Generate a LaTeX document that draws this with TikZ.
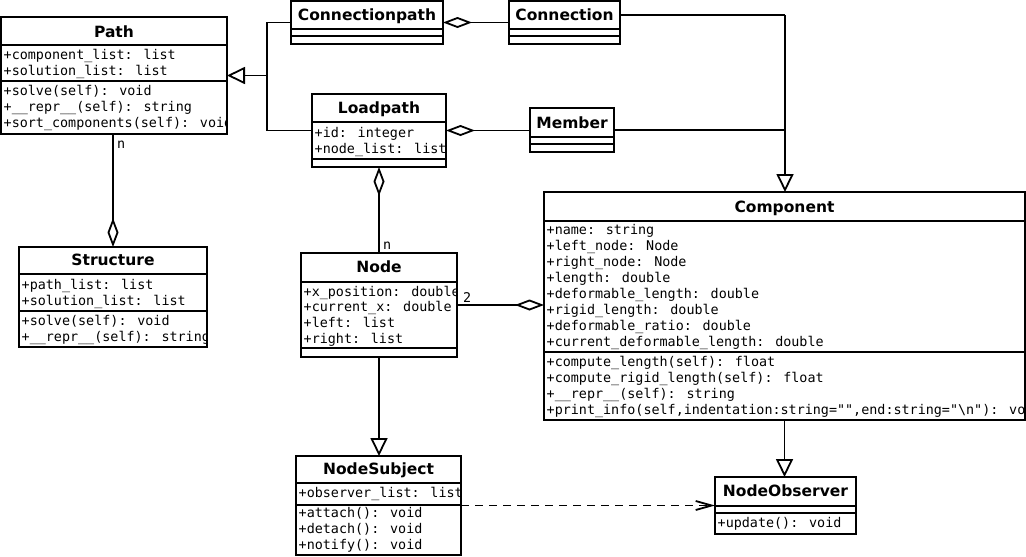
\documentclass[tikz,border=0pt]{standalone}
\usepackage{fontspec}
\setmainfont{DejaVu Sans}
\newfontfamily\monof{DejaVu Sans Mono}
\usetikzlibrary{arrows.meta,calc}
\tikzset{
  box/.style={draw, line width=1.8pt, fill=white, inner sep=0pt, outer sep=0pt},
  divline/.style={line width=1.8pt},
  ttl/.style={anchor=base, inner sep=0pt, font=\fontsize{15.5}{18}\selectfont\bfseries},
  mem/.style={anchor=base west, inner sep=0pt, font=\fontsize{13.4}{16}\selectfont\monof},
  conn/.style={line width=1.8pt},
  gen/.style={-{Triangle[open,length=18pt,width=17pt,fill=white]}},
  agg/.style={{Diamond[open,length=29pt,width=11pt,fill=white]}-},
  dep/.style={-{Straight Barb[length=16pt,width=9pt]}, dash pattern=on 8pt off 6pt},
  lbl/.style={anchor=base west, inner sep=0pt, font=\fontsize{13.4}{16}\selectfont\monof}
}
% #1 name, #2 x1, #3 y1, #4 x2, #5 y2, #6 div1, #7 div2, #8 title baseline, #9 title
\newcommand\umlclass[9]{%
  \pgfmathsetmacro\ucw{#4-#2}\pgfmathsetmacro\uch{#5-#3}%
  \pgfmathsetmacro\ucx{(#2+#4)/2}\pgfmathsetmacro\ucy{(#3+#5)/2}%
  \node[box, minimum width=\ucw pt, minimum height=\uch pt] (#1) at (\ucx,\ucy) {};
  \draw[divline] (#2,#6) -- (#4,#6);
  \draw[divline] (#2,#7) -- (#4,#7);
  \node[ttl] at (\ucx,#8) {#9};
}
\newcommand\umltext[6]{% x1 y1 x2 y2 baseline text (clipped)
  \begin{scope}
    \clip (#1,#2) rectangle (#3,#4);
    \node[mem] at (#1+2.5,#5) {#6};
  \end{scope}
}
\begin{document}
\begin{tikzpicture}[x=1pt,y=-1pt]
\useasboundingbox (0,0) rectangle (1026,557);

% Path
\umlclass{path}{1}{17}{227}{134}{45}{81}{37}{Path}
\umltext{1}{17}{226}{134}{59}{+component\_list: list}
\umltext{1}{17}{226}{134}{75}{+solution\_list: list}
\umltext{1}{17}{226}{134}{95}{+solve(self): void}
\umltext{1}{17}{226}{134}{111}{+\_\_repr\_\_(self): string}
\umltext{1}{17}{226}{134}{127}{+sort\_components(self): void}

% Connectionpath
\umlclass{cpath}{291}{1}{443}{44}{29}{36}{20.5}{Connectionpath}
% Connection
\umlclass{connection}{509}{1}{620}{44}{29}{36}{20.5}{Connection}

% Loadpath
\umlclass{loadpath}{312}{94}{446}{167}{122}{159}{113.5}{Loadpath}
\umltext{312}{94}{445}{167}{137}{+id: integer}
\umltext{312}{94}{445}{167}{153}{+node\_list: list}

% Member
\umlclass{member}{530}{108}{614}{152}{137}{144}{128}{Member}

% Structure
\umlclass{structure}{19}{247}{207}{347}{274}{311}{265}{Structure}
\umltext{19}{247}{206}{347}{289}{+path\_list: list}
\umltext{19}{247}{206}{347}{305}{+solution\_list: list}
\umltext{19}{247}{206}{347}{325}{+solve(self): void}
\umltext{19}{247}{206}{347}{341}{+\_\_repr\_\_(self): string}

% Node
\umlclass{node}{301}{253}{457}{357}{282}{348}{272.5}{Node}
\umltext{301}{253}{456}{357}{296}{+x\_position: double}
\umltext{301}{253}{456}{357}{311}{+current\_x: double}
\umltext{301}{253}{456}{357}{327}{+left: list}
\umltext{301}{253}{456}{357}{343}{+right: list}

% Component
\umlclass{component}{544}{192}{1025}{420}{221}{352}{212}{Component}
\umltext{544}{192}{1024}{420}{234}{+name: string}
\umltext{544}{192}{1024}{420}{250}{+left\_node: Node}
\umltext{544}{192}{1024}{420}{266}{+right\_node: Node}
\umltext{544}{192}{1024}{420}{282}{+length: double}
\umltext{544}{192}{1024}{420}{298}{+deformable\_length: double}
\umltext{544}{192}{1024}{420}{314}{+rigid\_length: double}
\umltext{544}{192}{1024}{420}{330}{+deformable\_ratio: double}
\umltext{544}{192}{1024}{420}{346}{+current\_deformable\_length: double}
\umltext{544}{192}{1024}{420}{366}{+compute\_length(self): float}
\umltext{544}{192}{1024}{420}{382}{+compute\_rigid\_length(self): float}
\umltext{544}{192}{1024}{420}{398}{+\_\_repr\_\_(self): string}
\umltext{544}{192}{1024}{420}{414}{+print\_info(self,indentation:string="",end:string="\textbackslash n"): void}

% NodeSubject
\umlclass{nodesubject}{296}{456}{461}{555}{483}{505}{474}{NodeSubject}
\umltext{296}{456}{460}{555}{497}{+observer\_list: list}
\umltext{296}{456}{460}{555}{517}{+attach(): void}
\umltext{296}{456}{460}{555}{533}{+detach(): void}
\umltext{296}{456}{460}{555}{549}{+notify(): void}

% NodeObserver
\umlclass{observer}{715}{477}{856}{534}{506}{513}{496}{NodeObserver}
\umltext{715}{477}{855}{534}{527}{+update(): void}

% Connectors
\coordinate (gj) at (267,75.5);
\draw[conn] (cpath.west) -- (cpath.west -| gj) -- (loadpath.west -| gj) -- (loadpath.west);
\draw[conn,gen] (gj) -- (path.east);

\draw[conn,agg] (cpath.east) -- (connection.west);
\draw[conn,agg] (loadpath.east) -- (loadpath.east -| member.west);

\coordinate (cj) at (785,15);
\draw[conn] (connection.east |- cj) -- (cj);
\draw[conn] (member.east) -- (member.east -| cj);
\draw[conn,gen] (cj) -- (cj |- component.north);

\draw[conn,agg] (structure.north) -- (structure.north |- path.south);
\node[lbl] (ln1) at (117,148) {n};

\draw[conn,agg] (loadpath.south) -- (node.north);
\node[lbl] (ln2) at (383,249) {n};

\draw[conn,agg] (component.west |- node.east) -- (node.east);
\node[lbl] (ln3) at (463,302) {2};

\draw[conn,gen] (node.south) -- (node.south |- nodesubject.north);
\draw[conn,gen] (component.south) -- (component.south |- observer.north);

\draw[conn,dep] (nodesubject.east) -- (observer.west);
\end{tikzpicture}
\end{document}
